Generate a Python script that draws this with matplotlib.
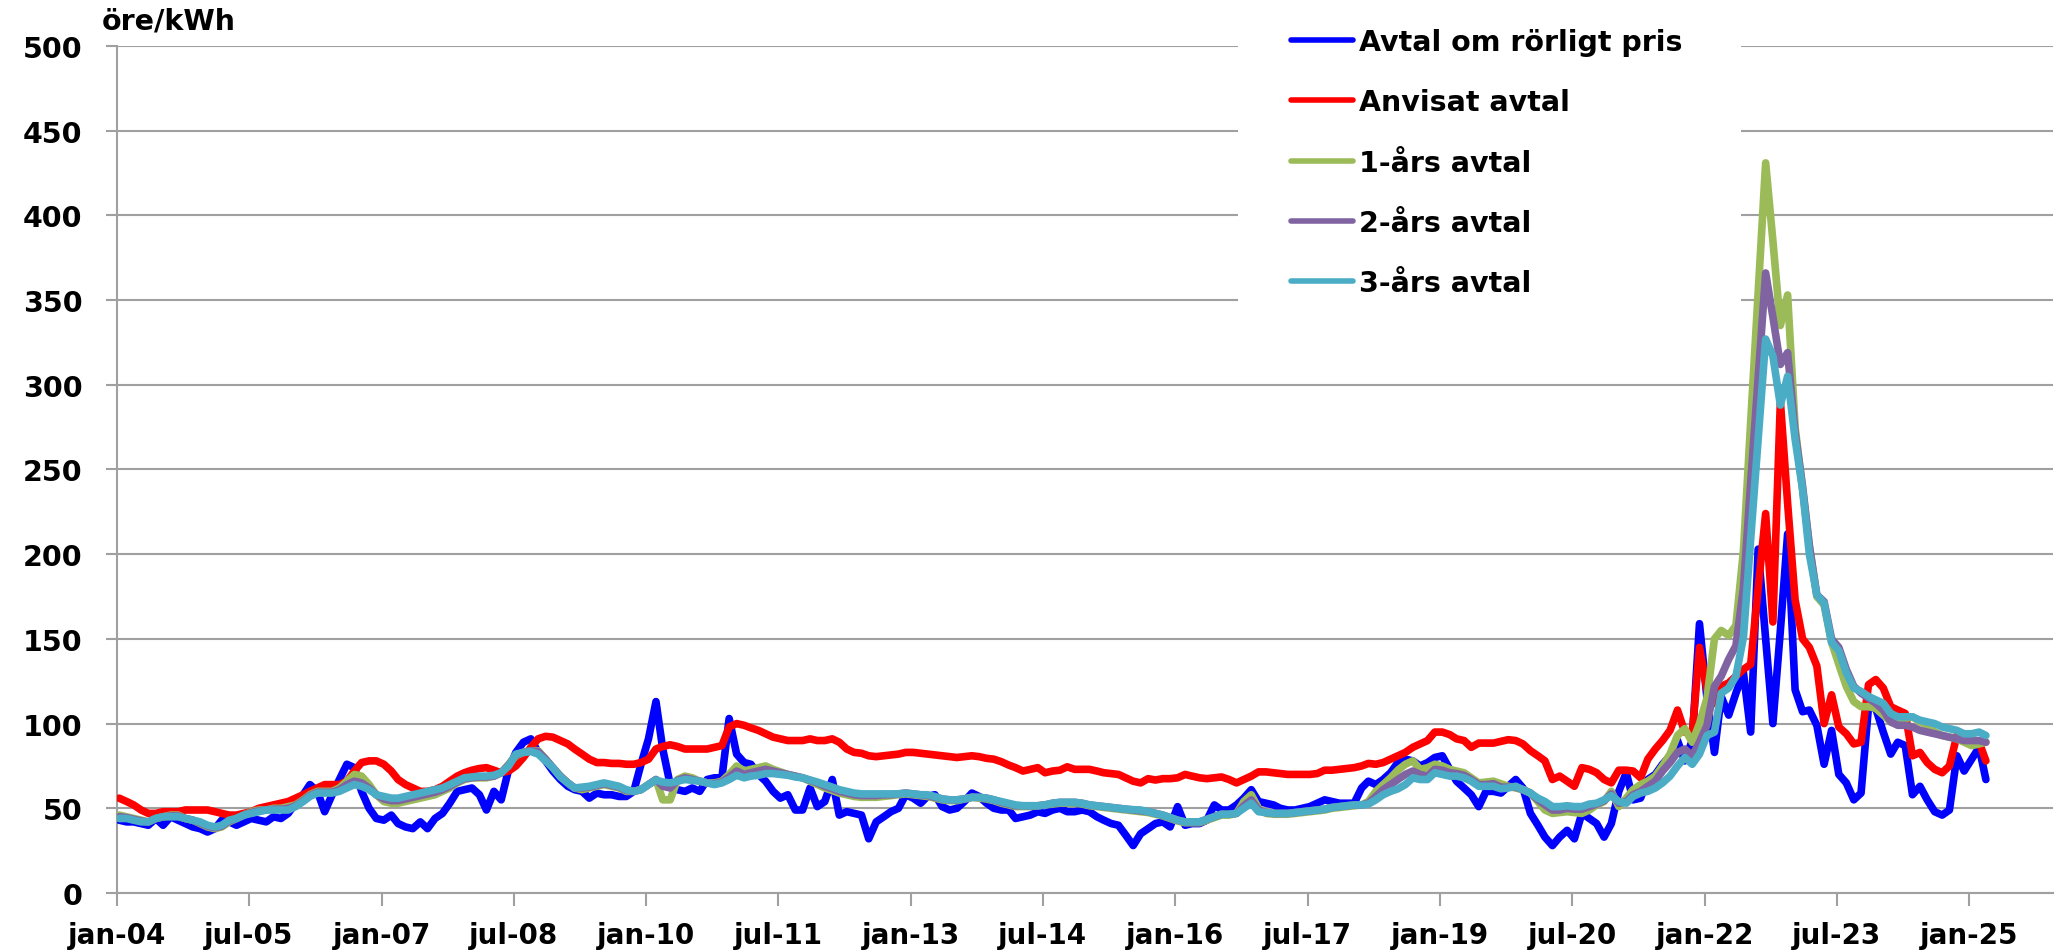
import numpy as np
import pandas as pd
import matplotlib
matplotlib.use("Agg")
import matplotlib.pyplot as plt
from matplotlib.patches import Rectangle

# monthly prices (öre/kWh), jan-04 .. mar-25, one row per year
rorligt = [
    43, 42, 42, 41, 40, 44, 40, 45, 43, 41, 39, 38,
    36, 38, 43, 42, 40, 42, 44, 43, 42, 45, 44, 47,
    53, 58, 64, 60, 48, 58, 67, 76, 74, 60, 50, 44,
    43, 46, 41, 39, 38, 42, 38, 44, 47, 53, 60, 61,
    62, 58, 49, 60, 55, 73, 83, 89, 91, 83, 78, 72,
    67, 63, 61, 60, 56, 59, 58, 58, 57, 57, 60, 76,
    91, 113, 85, 64, 61, 60, 62, 60, 67, 68, 68, 103,
    82, 77, 76, 70, 66, 60, 56, 58, 49, 49, 62, 51,
    54, 67, 46, 48, 47, 46, 32, 42, 45, 48, 50, 58,
    56, 53, 57, 58, 51, 49, 50, 54, 59, 57, 53, 50,
    49, 49, 44, 45, 46, 48, 47, 49, 50, 48, 48, 49,
    48, 45, 43, 41, 40, 34, 28, 35, 38, 41, 42, 39,
    51, 40, 41, 41, 43, 52, 49, 49, 52, 56, 61, 54,
    53, 52, 50, 49, 49, 50, 51, 53, 55, 54, 53, 53,
    53, 62, 66, 64, 67, 71, 77, 79, 78, 75, 77, 80,
    81, 73, 66, 62, 58, 51, 60, 60, 59, 63, 67, 62,
    47, 40, 33, 28, 33, 37, 32, 47, 44, 41, 33, 41,
    60, 71, 55, 56, 67, 70, 76, 81, 90, 78, 90, 159,
    115, 83, 116, 105, 118, 130, 95, 203, 150, 100, 155, 212,
    120, 107, 108, 99, 76, 96, 70, 65, 55, 59, 110, 109,
    95, 82, 89, 87, 58, 63, 55, 48, 46, 49, 81, 72,
    79, 86, 67,
]
anvisat = [
    56, 54, 52, 49, 47, 47, 48, 48, 48, 49, 49, 49,
    49, 48, 47, 46, 46, 47, 48, 50, 51, 52, 53, 54,
    56, 58, 60, 62, 64, 64, 64, 66, 72, 77, 78, 78,
    76, 72, 67, 64, 62, 60, 60, 61, 63, 66, 69, 71,
    72.5, 73.5, 74, 72.5, 71, 72, 75, 80, 86, 91, 92.5, 92,
    90, 88, 85, 82, 79, 77, 77, 76.5, 76.5, 76, 76, 77,
    79, 85, 86.5, 87.5, 86.5, 85, 85, 85, 85, 86, 87, 98,
    100, 99, 97.5, 96, 94, 92, 91, 90, 90, 90, 91, 90,
    90, 91, 89, 85, 83, 82.5, 81, 80.5, 81, 81.5, 82, 83,
    83, 82.5, 82, 81.5, 81, 80.5, 80, 80.5, 81, 80.5, 79.5, 79,
    77.5, 75.5, 74, 72, 73, 74, 71, 72, 72.5, 74.5, 73, 73,
    73, 72, 71, 70.5, 70, 68, 66, 65, 67.5, 66.7, 67.5, 67.5,
    68, 70, 69, 68, 67.5, 68, 68.5, 67, 65, 67, 69, 71.5,
    71.5, 71, 70.5, 70, 70, 70, 70, 70.5, 72.5, 72.5, 73, 73.5,
    74, 75, 76.5, 76, 77, 79, 81, 83, 86, 88, 90, 95,
    95, 93.5, 91, 90, 86, 88.5, 88.5, 88.5, 89.5, 90.5, 90, 88,
    84, 81, 78, 67, 69, 66, 63, 74, 73, 71, 67, 65,
    72.5, 72.5, 72, 68, 79, 85, 90, 96, 108, 95, 94, 145,
    120, 112, 122, 124, 128, 132, 135, 180, 224, 160, 290, 230,
    173, 150, 145, 134, 100, 117, 98, 94, 88, 89, 123, 126,
    121, 110, 108, 106, 81, 83, 77, 73, 71, 75, 93, 92,
    90, 89, 78,
]
ett_ar = [
    46, 45, 44, 43, 42, 44, 45, 46, 46, 44, 43, 41,
    39, 38, 39, 42, 44, 46, 48, 49, 49, 50, 50, 51,
    52, 55, 58, 60, 60, 60, 62, 66, 70, 69, 64, 58,
    54, 53, 53, 54, 55, 56, 57, 58, 60, 62, 65, 67,
    68, 68, 68, 69, 71, 76, 81, 83, 84, 84, 79, 74,
    69, 65, 62, 61, 62, 63, 64, 63, 62, 60, 60, 61,
    64, 67, 55, 55, 67, 69, 68, 66, 65, 65, 66, 70,
    75, 72, 73, 74, 75, 73, 71.5, 70, 69, 68, 66, 64,
    62, 60.5, 59, 58, 57, 56.5, 56.5, 56.5, 57, 57.5, 58, 58.5,
    58, 57.5, 57, 56, 55, 54.5, 54.5, 55.5, 56.5, 56, 55.5, 54.5,
    53, 52, 51, 51, 51, 51.5, 52, 52.5, 53, 53, 53, 52.5,
    51.5, 51, 50.5, 50, 49.5, 49, 48.5, 48, 47.5, 46.5, 45.5, 44,
    42.5, 41.5, 41.5, 41.5, 43, 44.5, 46, 46, 47, 54, 58, 50,
    47, 46.5, 46.5, 46.5, 47, 47.5, 48, 48.5, 49, 50, 50.5, 51,
    51.5, 52, 54, 60, 64, 68, 72.5, 76, 78, 73, 74, 76,
    75, 73, 72, 71, 68, 65, 65.5, 66, 64.5, 63, 62, 61,
    59, 54, 49, 47, 47.5, 48, 47.5, 47, 49, 52, 54, 60,
    51, 56, 61, 64, 66, 69, 75, 82, 93, 97, 89, 100,
    115, 150, 155, 152, 158, 202, 278, 354, 431, 385, 335, 353,
    275, 238, 205, 175, 170, 148, 135, 122, 113, 110, 110, 109,
    105, 101, 101, 103, 104, 101, 99, 95, 93, 92, 91, 89,
    87, 88, 89,
]
tva_ar = [
    45, 44.5, 43.5, 42.5, 42, 44, 45, 45.5, 45.5, 44, 43, 41.5,
    39.5, 38.5, 39.5, 42.5, 44, 46, 47.5, 48.5, 49, 49.5, 49.5, 50,
    51.5, 54.5, 57.5, 59.5, 59.5, 59.5, 61, 64, 66, 65, 62, 58,
    55.5, 54.5, 54.5, 55.5, 56.5, 57.5, 58.5, 59.5, 61, 63, 65.5, 67.5,
    68, 68.5, 68.5, 69, 71, 75.5, 81.5, 83, 84, 83.5, 79, 74,
    69, 65, 62, 62, 62.5, 63.5, 64.5, 63.5, 62.5, 60.5, 60, 61,
    64, 67, 63, 62, 66.5, 68, 67, 66, 65, 64.5, 65.5, 68.5,
    72, 70, 71, 72, 73, 72, 71, 70, 69, 68, 66.5, 65,
    63, 61.5, 60, 59, 58, 57.5, 57.5, 57.5, 58, 58, 58.5, 59,
    58.5, 58, 57.5, 56.5, 55.5, 55, 55, 55.5, 56.5, 56.5, 56, 55,
    53.5, 52.5, 51.5, 51.5, 51.5, 51.5, 52, 53, 53.5, 53.5, 53.5, 53,
    52, 51.5, 51, 50.5, 50, 49.5, 49, 48.5, 48, 47, 46, 44.5,
    43, 42, 42, 42, 43.5, 45, 46.5, 46.5, 47, 51.5, 55, 49,
    47.5, 47, 47, 47, 47.5, 48, 48.5, 49, 49.5, 50.5, 51, 51.5,
    52, 52, 53, 57, 61, 64, 67, 70, 72, 70, 69, 73,
    72.5, 71, 70.5, 69.5, 67, 64, 64, 64.5, 62.5, 62.5, 62.5, 61,
    59, 55, 52, 49, 49, 50, 49.5, 49.5, 51, 52.5, 54.5, 58.5,
    53, 54, 58, 60, 63, 66, 72, 77, 83, 85, 81, 89,
    99, 122, 128, 138, 146, 180, 242, 304, 366, 340, 312, 319,
    272, 240, 205, 176, 172, 150, 145, 132, 122, 118, 115, 112,
    108, 101, 99, 99, 98, 96, 95, 94, 93, 92, 91, 90,
    90, 90, 89,
]
tre_ar = [
    44, 44, 43, 42, 42, 44, 45, 45, 45, 44, 43, 42,
    40, 39, 40, 43, 44, 46, 47, 48, 49, 49, 49, 49,
    51, 54, 57, 59, 59, 59, 60, 62, 64, 63, 61, 58,
    57, 56, 56, 57, 58, 59, 60, 61, 62, 64, 66, 68,
    68.5, 69, 69, 69.5, 71, 75, 82, 83, 83.5, 82, 78, 74,
    68.5, 65, 62, 62.5, 63, 64, 65, 64, 63, 61, 60, 61,
    64, 66.7, 65.5, 65, 66, 67, 66.5, 66, 65, 64, 65, 67,
    69.5, 68, 69, 69.5, 70.5, 70.5, 70, 69.5, 68.5, 68, 66.7, 65.5,
    64, 62.5, 61, 60, 59, 58.5, 58.5, 58.5, 58.5, 58.5, 58.5, 59,
    58.5, 58, 58, 57, 55.5, 55, 55, 55.5, 56.5, 56.5, 56, 55,
    54, 53, 52, 51.5, 51.5, 51.5, 52, 53, 53.5, 53.5, 53.5, 53,
    52, 51.5, 51, 50.5, 50, 49.5, 49.2, 49, 48, 47, 46, 44.5,
    43, 42, 42, 42, 43.5, 45, 46.5, 46.5, 47, 50, 53, 48,
    47.5, 47, 47, 47, 47.5, 48, 48.5, 49, 49.5, 50.5, 51, 51.5,
    52, 52, 52.5, 55, 58, 60, 61.5, 64, 68, 67, 67, 71,
    70, 69, 69, 68, 66, 63, 63, 63, 61.5, 62, 63, 61,
    59, 56, 54, 51, 51, 51.5, 51, 51, 52.5, 53, 55, 57.5,
    54, 53, 57, 59, 60, 62, 65, 69, 75, 80, 76, 82,
    93, 95, 118, 121, 128, 151, 209, 268, 327, 317, 288, 305,
    268, 238, 200, 176, 171, 148, 143, 130, 121, 119, 116, 114,
    112, 106, 104, 104, 104, 102, 101, 100, 98, 97, 96, 94,
    94, 95, 93,
]

series = [
    ("Avtal om rörligt pris", rorligt, "#0000FF"),
    ("Anvisat avtal", anvisat, "#FF0000"),
    ("1-års avtal", ett_ar, "#9BBB59"),
    ("2-års avtal", tva_ar, "#8064A2"),
    ("3-års avtal", tre_ar, "#4BACC6"),
]

tick_labels = ["jan-04", "jul-05", "jan-07", "jul-08", "jan-10", "jul-11", "jan-13", "jul-14",
               "jan-16", "jul-17", "jan-19", "jul-20", "jan-22", "jul-23", "jan-25"]

n = len(rorligt)
for name, vals, c in series:
    assert len(vals) == n, (name, len(vals))

# points sit a few days into each month
dates = pd.date_range("2004-01-01", periods=n, freq="MS") + pd.Timedelta(days=9)
tick_dates = pd.date_range("2004-01-01", periods=len(tick_labels), freq="18MS")

plt.rcParams["font.family"] = ["DejaVu Sans"]
plt.rcParams["font.weight"] = "bold"

fig = plt.figure(figsize=(20.7, 9.53), dpi=100)
ax = fig.add_axes([0.0565, 0.0619, 0.9353, 0.8888])

grey = "#A0A0A0"
ax.set_axisbelow(True)
ax.yaxis.grid(True, color=grey, linewidth=1.5)
ax.xaxis.grid(False)

for i, (name, vals, c) in enumerate(series):
    ax.plot(dates, vals, color=c, linewidth=5.5, label=name, zorder=3 + i,
            solid_joinstyle="round", solid_capstyle="round")

ax.set_ylim(0, 500)
ax.set_yticks(np.arange(0, 501, 50))
ax.set_xlim(pd.Timestamp("2004-01-01"), pd.Timestamp("2025-12-13"))
ax.set_xticks(tick_dates)
ax.set_xticklabels(tick_labels)

for s in ["top", "right"]:
    ax.spines[s].set_visible(False)
for s in ["left", "bottom"]:
    ax.spines[s].set_color(grey)
    ax.spines[s].set_linewidth(1.5)

ax.tick_params(axis="y", direction="out", length=8, width=1.5, color=grey,
               pad=17, labelsize=20.5)
ax.tick_params(axis="x", direction="out", length=9, width=1.5, color=grey,
               pad=11, labelsize=20)
for lab in ax.get_xticklabels() + ax.get_yticklabels():
    lab.set_fontweight("bold")

# white box behind the legend hides the gridlines
ax.add_patch(Rectangle((0.579, 0.648), 0.26, 0.37, transform=ax.transAxes,
                       facecolor="white", edgecolor="none", zorder=1, clip_on=False))

leg = fig.legend(loc="upper left", bbox_to_anchor=(0.6235, 0.970), frameon=False,
                 prop={"weight": "bold", "size": 20.5}, handlelength=2.2,
                 handletextpad=0.2, labelspacing=1.14, borderpad=0, borderaxespad=0)
for h in leg.get_lines():
    h.set_linewidth(4)
    h.set_solid_capstyle("round")

fig.text(0.049, 0.977, "öre/kWh", fontsize=20.5, fontweight="bold", ha="left", va="center")

fig.savefig("out.png", dpi=100)
